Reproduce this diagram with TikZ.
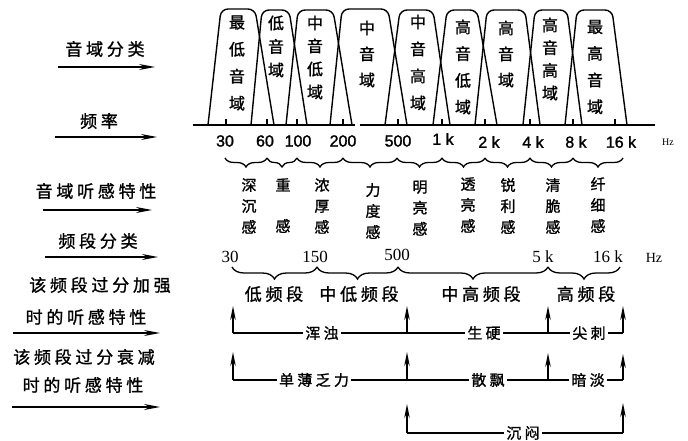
\documentclass[tikz,border=0pt]{standalone}
\usepackage{fontspec}
\setmainfont{Liberation Serif}
\newfontfamily\cjk[LetterSpace=22,FakeBold=1.2]{Noto Sans CJK SC}
\newfontfamily\cjkv[FakeBold=1.2]{Noto Sans CJK SC}
\newfontfamily\sansnum[FakeBold=1.5]{Liberation Sans}
\usetikzlibrary{arrows.meta,decorations.pathreplacing}
\tikzset{
  ln/.style={line width=1.2pt},
  larr/.style={line width=1.4pt,-{Stealth[length=16pt,width=6pt]}},
  varr/.style={line width=1.4pt,-{Stealth[length=14pt,width=5.5pt]}},
  trap/.style={line width=1.4pt,rounded corners=7pt},
  lab/.style={font=\cjk\fontsize{17}{20}\selectfont,inner sep=0},
  num/.style={font=\sansnum\fontsize{16}{16}\selectfont,inner sep=0},
  numtwo/.style={font=\fontsize{17}{17}\selectfont,inner sep=0},
  feel/.style={font=\cjkv\fontsize{15}{21}\selectfont,align=center,inner sep=0},
  vt/.style={font=\cjkv\fontsize{16}{#1}\selectfont,align=center,inner sep=0},
  lbl/.style={font=\cjk\fontsize{15}{18}\selectfont,fill=white,inner xsep=2pt,inner ysep=0},
  br/.style={line width=1.3pt,decorate,decoration={brace,mirror,amplitude=#1}}
}
\begin{document}
\begin{tikzpicture}[x=1pt,y=-1pt]
\useasboundingbox[fill=white] (0,0) rectangle (688,441);

% ---- left labels and arrows
\node[lab] (l1) at (105,49) {音域分类};
\coordinate (a1s) at (58,67); \coordinate (a1e) at (155,67);
\draw[larr] (a1s) -- (a1e);
\node[lab] (l2) at (99,121) {频率};
\coordinate (a2s) at (55,137); \coordinate (a2e) at (157,137);
\draw[larr] (a2s) -- (a2e);
\node[lab] (l3) at (96,191) {音域听感特性};
\coordinate (a3s) at (43,210); \coordinate (a3e) at (152,210);
\draw[larr] (a3s) -- (a3e);
\node[lab] (l4) at (98,241) {频段分类};
\coordinate (a4s) at (45,257); \coordinate (a4e) at (158,257);
\draw[larr] (a4s) -- (a4e);
\node[lab] (l5) at (100,285) {该频段过分加强};
\node[lab] (l6) at (86,317) {时的听感特性};
\coordinate (a5s) at (13,333); \coordinate (a5e) at (160,333);
\draw[larr] (a5s) -- (a5e);
\node[lab] (l7) at (84,357) {该频段过分衰减};
\node[lab] (l8) at (83,385) {时的听感特性};
\coordinate (a6s) at (12,407); \coordinate (a6e) at (160,407);
\draw[larr] (a6s) -- (a6e);

% ---- trapezoids
\draw[trap] (208,125) -- (221,9) -- (255,9) -- (274,125);
\draw[trap] (251,125) -- (262,10) -- (289,10) -- (307,125);
\draw[trap] (286,125) -- (298,10) -- (333,10) -- (352,125);
\draw[trap] (330,125) -- (342,9) -- (388,9) -- (407,125);
\draw[trap] (385,125) -- (400,10) -- (433,10) -- (450,125);
\draw[trap] (433,125) -- (447,10) -- (477,10) -- (497,125);
\draw[trap] (475,125) -- (487,10) -- (525,10) -- (540,125);
\draw[trap] (523,125) -- (535,10) -- (567,10) -- (582,125);
\draw[trap] (565,125) -- (577,10) -- (612,10) -- (627,125);

\node[vt=27] (s1) at (237,63) {最\\低\\音\\域};
\node[vt=23.5] (s2) at (276,46.5) {低\\音\\域};
\node[vt=23] (s3) at (315,57.5) {中\\音\\低\\域};
\node[vt=26] (s4) at (367,54) {中\\音\\域};
\node[vt=27] (s5) at (418,62.5) {中\\音\\高\\域};
\node[vt=26.7] (s6) at (463,67) {高\\音\\低\\域};
\node[vt=26] (s7) at (506,54) {高\\音\\域};
\node[vt=22.7] (s8) at (550,59) {高\\音\\高\\域};
\node[vt=26.7] (s9) at (595,67) {最\\高\\音\\域};

% ---- frequency axis
\coordinate (ax0) at (193,125); \coordinate (ax1) at (355,125);
\coordinate (ax2) at (360,125); \coordinate (ax3) at (655,125);
\draw[line width=1.8pt] (ax0) -- (ax1) (ax2) -- (ax3);
\foreach \x in {226,267,297,343,398,442,485,530,573,615}
  \draw[ln] (\x,125) -- (\x,119);

\node[num] (f1) at (225,141) {30};
\node[num] (f2) at (265,141) {60};
\node[num] (f3) at (298,141) {100};
\node[num] (f4) at (343,141) {200};
\node[num] (f5) at (398,141) {500};
\node[num] (f6) at (443,139) {1 k};
\node[num] (f7) at (489,142) {2 k};
\node[num] (f8) at (533,142) {4 k};
\node[num] (f9) at (576,142) {8 k};
\node[num] (f10) at (621,142) {16 k};
\node[font=\fontsize{10}{10}\selectfont,inner sep=0] (fhz) at (668,142) {Hz};

% ---- upper brace
\foreach \a/\b in {225/267,267/297,297/343,343/397,397/442,442/485,485/530,530/573,573/623}
  \draw[br=9pt] (\a,158) -- (\b,158);

\node[feel] (c1) at (249,206) {深\\沉\\感};
\node[feel] (c2) at (283,205.5) {重\\[20pt]感};
\node[feel] (c3) at (322,206) {浓\\厚\\感};
\node[feel] (c4) at (373,211) {力\\度\\感};
\node[feel] (c5) at (420,208) {明\\亮\\感};
\node[feel] (c6) at (468,205) {透\\亮\\感};
\node[feel] (c7) at (508,206) {锐\\利\\感};
\node[feel] (c8) at (553,206) {清\\脆\\感};
\node[feel] (c9) at (598,205) {纤\\细\\感};

% ---- band numbers
\node[numtwo] (b1) at (230,257) {30};
\node[numtwo] (b2) at (315,257) {150};
\node[numtwo] (b3) at (397,255) {500};
\node[numtwo] (b4) at (543,257) {5 k};
\node[numtwo] (b5) at (608,257) {16 k};
\node[font=\fontsize{14}{14}\selectfont,inner sep=0] (bhz) at (654,258) {Hz};

% ---- lower brace
\foreach \a/\b in {232/317,317/398,398/548,548/620}
  \draw[br=12pt] (\a,267) -- (\b,267);

\node[lab] (g1) at (274,294) {低频段};
\node[lab] (g2) at (359,294) {中低频段};
\node[lab] (g3) at (481,294) {中高频段};
\node[lab] (g4) at (586,294) {高频段};

% ---- row 1 (strengthened)
\coordinate (r1a) at (233,333); \coordinate (r1b) at (407,333);
\coordinate (r1c) at (548,333); \coordinate (r1d) at (623,333);
\coordinate (t1a) at (233,306); \coordinate (t1b) at (407,306);
\coordinate (t1c) at (548,306); \coordinate (t1d) at (623,306);
\draw[ln] (r1a) -- (r1d);
\foreach \p in {a,b,c,d} \draw[varr] (r1\p) -- (t1\p);
\node[lbl] (h1) at (322,333) {浑浊};
\node[lbl] (h2) at (484,333) {生硬};
\node[lbl] (h3) at (589,333) {尖刺};

% ---- row 2 (weakened)
\coordinate (r2a) at (233,380); \coordinate (r2b) at (407,380);
\coordinate (r2c) at (548,380); \coordinate (r2d) at (623,380);
\coordinate (t2a) at (233,352); \coordinate (t2b) at (407,352);
\coordinate (t2c) at (548,353); \coordinate (t2d) at (623,354);
\draw[ln] (r2a) -- (r2d);
\foreach \p in {a,b,c,d} \draw[varr] (r2\p) -- (t2\p);
\node[lbl] (w1) at (314,380) {单薄乏力};
\node[lbl] (w2) at (488,380) {散飘};
\node[lbl] (w3) at (588,380) {暗淡};

% ---- row 3
\coordinate (r3b) at (407,433); \coordinate (r3d) at (623,433);
\coordinate (t3b) at (407,404); \coordinate (t3d) at (623,403);
\draw[ln] (r3b) -- (r3d);
\draw[varr] (r3b) -- (t3b);
\draw[varr] (r3d) -- (t3d);
\node[lbl] (m1) at (523,433) {沉闷};
\end{tikzpicture}
\end{document}
